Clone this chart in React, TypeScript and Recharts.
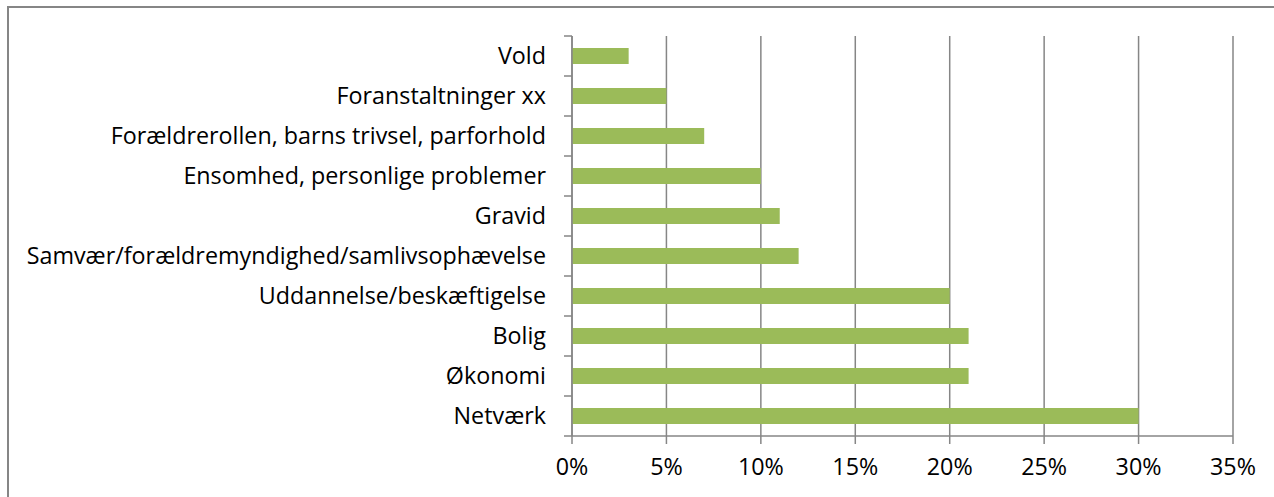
import { BarChart, Bar, XAxis, YAxis, CartesianGrid } from 'recharts';

const categories = [
    'Vold',
    'Foranstaltninger xx',
    'Forældrerollen, barns trivsel, parforhold',
    'Ensomhed, personlige problemer',
    'Gravid',
    'Samvær/forældremyndighed/samlivsophævelse',
    'Uddannelse/beskæftigelse',
    'Bolig',
    'Økonomi',
    'Netværk',
];
const shares = [0.03, 0.05, 0.07, 0.10, 0.11, 0.12, 0.20, 0.21, 0.21, 0.30];
const xTicks = [0, 0.05, 0.1, 0.15, 0.2, 0.25, 0.3, 0.35];

const data = categories.map((name, i) => ({ name, value: shares[i] }));

const FONT = '"Open Sans", sans-serif';
const FS = 23.3;
const AXIS = '#868686';
const TOP = 36;
const Y_W = 572;
const PLOT_H = 400;
const BAND = PLOT_H / categories.length;

// tick marks sit on the category boundaries, labels in the middle
const CategoryTick = (props: any) => {
    const { y, payload, index } = props;
    const top = y - BAND / 2;
    return (
        <g>
            <line x1={Y_W - 8} x2={Y_W} y1={top} y2={top} stroke={AXIS} strokeWidth={1.5} />
            {index === categories.length - 1 && (
                <line x1={Y_W - 8} x2={Y_W} y1={top + BAND} y2={top + BAND} stroke={AXIS} strokeWidth={1.5} />
            )}
            <text x={Y_W - 26} y={y} dy="0.36em" textAnchor="end" fill="#000" fontSize={FS} fontFamily={FONT}>
                {payload.value}
            </text>
        </g>
    );
};

const PercentTick = (props: any) => {
    const { x, y, payload } = props;
    return (
        <text x={x} y={y + 29} textAnchor="middle" fill="#000" fontSize={FS} fontFamily={FONT}>
            {`${Math.round(payload.value * 100)}%`}
        </text>
    );
};

export default function App() {
    return (
        <div style={{ position: 'absolute', left: 0, top: 0, width: 1274, height: 497, overflow: 'hidden', background: '#fff' }}>
            <div
                style={{
                    position: 'absolute',
                    left: 7,
                    top: 6,
                    width: 1300,
                    height: 520,
                    borderLeft: `2px solid ${AXIS}`,
                    borderTop: `2px solid ${AXIS}`,
                }}
            />
            <div style={{ position: 'absolute', left: 0, top: 0 }}>
                <BarChart
                    width={1274}
                    height={497}
                    data={data}
                    layout="vertical"
                    margin={{ top: TOP, right: 41, bottom: 0, left: 0 }}
                    barCategoryGap={0}
                >
                    <CartesianGrid horizontal={false} stroke={AXIS} strokeWidth={1.5} />
                    <XAxis
                        type="number"
                        domain={[0, 0.35]}
                        ticks={xTicks}
                        height={61}
                        axisLine={{ stroke: AXIS, strokeWidth: 1.5 }}
                        tickLine={{ stroke: AXIS, strokeWidth: 1.5 }}
                        tickSize={8}
                        tick={<PercentTick />}
                        interval={0}
                    />
                    <YAxis
                        type="category"
                        dataKey="name"
                        width={Y_W}
                        axisLine={{ stroke: AXIS, strokeWidth: 1.5 }}
                        tickLine={false}
                        tick={<CategoryTick />}
                        interval={0}
                    />
                    <Bar dataKey="value" fill="#9BBB59" barSize={16} isAnimationActive={false} />
                </BarChart>
            </div>
        </div>
    );
}
